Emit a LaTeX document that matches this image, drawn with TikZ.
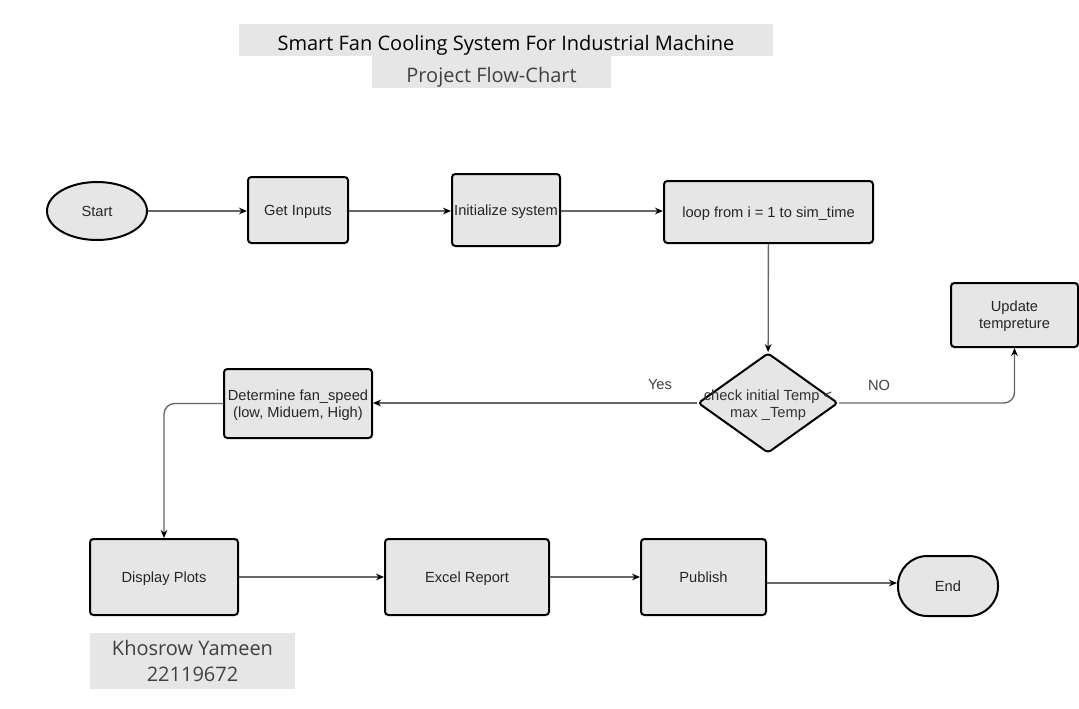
\documentclass[tikz,border=0pt]{standalone}
\usepackage{fontspec}
\setmainfont{Liberation Sans}
\newfontfamily\titlefont{Open Sans}
\usetikzlibrary{shapes.geometric,arrows.meta}
\definecolor{boxgray}{HTML}{E6E6E6}
\definecolor{linegray}{HTML}{666666}

\begin{document}
\begin{tikzpicture}[x=0.75pt,y=-0.75pt,
    stepbox/.style={draw, line width=1.5pt, rounded corners=2.5pt, fill=boxgray, align=center, inner sep=0pt, text depth=0pt, font=\fontsize{11}{13}\selectfont, text=black!85},
    banner/.style={fill=boxgray, inner sep=0pt, align=center, text depth=0pt, font=\titlefont},
    flow/.style={draw=linegray, line width=1pt, -{Stealth[length=6pt,width=5pt,color=black]}},
    lbl/.style={font=\fontsize{11}{13}\selectfont, text=black!75}]
\useasboundingbox (0,0) rectangle (1079,708);

% titles
\node[banner, minimum width=400.5pt, minimum height=24pt, text height=15pt, font=\titlefont\fontsize{15}{17}\selectfont] (title) at (506,40) {Smart Fan Cooling System For Industrial Machine};
\node[banner, minimum width=179.25pt, minimum height=24pt, text height=15pt, font=\titlefont\fontsize{15}{17}\selectfont, text=black!75] (subtitle) at (491.5,72) {Project Flow-Chart};

% top row
\node[stepbox, ellipse, minimum width=75pt, minimum height=43.5pt] (start) at (97,211) {Start};
\node[stepbox, minimum width=75pt, minimum height=49.5pt] (inputs) at (298,210) {Get Inputs};
\node[stepbox, minimum width=81pt, minimum height=54pt] (init) at (506,210) {Initialize system};
\node[stepbox, minimum width=156.75pt, minimum height=46.5pt] (loop) at (768.5,212) {loop from i = 1 to sim\_time};

% decision
\node[stepbox, diamond, minimum width=105pt, minimum height=75pt] (check) at (768,403) {};
\node[lbl, align=center, text=black!80] (checktxt) at (768,405) {check initial Temp <\\max \_Temp};
\node[stepbox, minimum width=95.25pt, minimum height=48pt] (update) at (1014.5,315) {Update\\tempreture};
\node[stepbox, minimum width=111pt, minimum height=51.75pt] (fan) at (298,403.5) {Determine fan\_speed\\(low, Miduem, High)};

% bottom row
\node[stepbox, minimum width=111pt, minimum height=57pt] (plots) at (164,577) {Display Plots};
\node[stepbox, minimum width=123pt, minimum height=57pt] (excel) at (467,577) {Excel Report};
\node[stepbox, minimum width=93.75pt, minimum height=57pt] (publish) at (703.5,577) {Publish};
\node[stepbox, rounded corners=22pt, minimum width=75pt, minimum height=45pt] (end) at (948,586) {End};

% author
\node[banner, minimum width=153.75pt, minimum height=42pt, text depth=-4.5pt, font=\titlefont\fontsize{15}{19}\selectfont, text=black!75] (author) at (192.5,661) {Khosrow Yameen\\22119672};

% connectors
\draw[flow] (start) -- (start -| inputs.west);
\draw[flow] (start -| inputs.east) -- (start -| init.west);
\draw[flow] (init.east |- 0,211) -- (loop.west |- 0,211);
\draw[flow] (loop) -- (check);
\draw[flow] (check.west) -- (fan.east |- check.west);
\draw[flow, rounded corners=8pt] (check.east) -| (update.south);
\draw[flow, rounded corners=8pt] (fan.west) -| (plots.north);
\draw[flow] (plots) -- (excel);
\draw[flow] (excel) -- (publish);
\draw[flow] (publish.east |- 0,583) -- (end.west |- 0,583);

% branch labels
\node[lbl] (yes) at (660,385) {Yes};
\node[lbl] (no) at (879,385) {NO};
\end{tikzpicture}
\end{document}
